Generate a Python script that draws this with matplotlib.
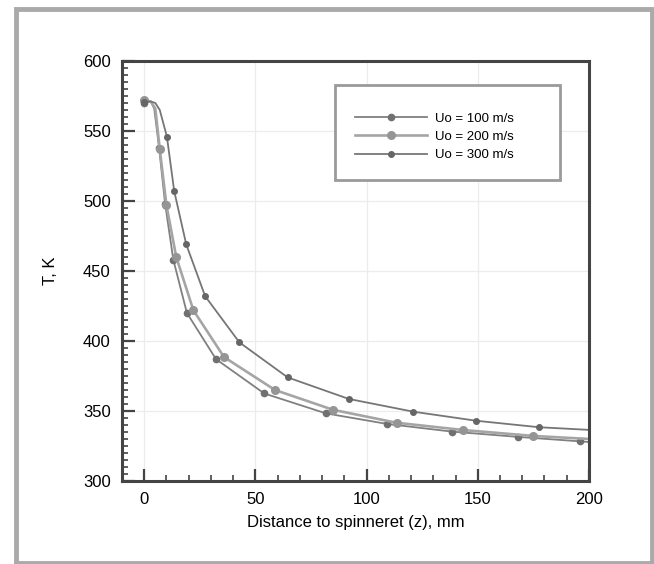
import matplotlib
matplotlib.use("Agg")
import matplotlib.pyplot as plt
from matplotlib.patches import Rectangle
from matplotlib.ticker import MultipleLocator

plt.rcParams['font.family'] = ['Liberation Sans', 'DejaVu Sans']

# values: distance (mm) and temperature (K)
z_100 = [0, 3, 4.5, 6.7, 9.4, 13.1, 19.2, 32.3, 54.0, 81.7, 109.4, 138.2, 168.0, 196.0, 200]
T_100 = [570, 571, 566, 538, 498, 458, 420, 387, 362.5, 348.3, 340.7, 335.3, 331.5, 328.3, 327.8]
mk_100 = [0, 3, 4, 5, 6, 7, 8, 9, 10, 11, 12, 13]

z_200 = [0, 3, 5, 7, 10, 14.4, 22.1, 35.9, 58.8, 85.0, 113.5, 143.4, 174.8, 200]
T_200 = [572, 571, 566, 537, 497, 460, 422, 388.5, 365, 350.8, 341.6, 336.4, 332.2, 330]
mk_200 = [0, 3, 4, 5, 6, 7, 8, 9, 10, 11, 12]

z_300 = [0, 3, 5, 7, 10.2, 13.5, 18.9, 27.4, 42.8, 64.5, 92.0, 121.0, 149.4, 177.5, 200]
T_300 = [571, 571, 570, 565, 546, 507, 469, 432, 399, 374, 358.6, 349.5, 343, 338.4, 336.5]
mk_300 = [0, 4, 5, 6, 7, 8, 9, 10, 11, 12, 13]

labels = ['Uo = 100 m/s', 'Uo = 200 m/s', 'Uo = 300 m/s']

fig = plt.figure(figsize=(6.54, 5.64), dpi=100)
ax = fig.add_axes([0.1865, 0.1472, 0.714, 0.7447])

ax.plot(z_100, T_100, color='#808080', lw=1.3, marker='o', ms=4.5,
        mfc='#707070', mec='#707070', markevery=mk_100, label=labels[0])
ax.plot(z_200, T_200, color='#a5a5a5', lw=1.9, marker='o', ms=5.5,
        mfc='#959595', mec='#959595', markevery=mk_200, label=labels[1])
ax.plot(z_300, T_300, color='#767676', lw=1.3, marker='o', ms=4,
        mfc='#666666', mec='#666666', markevery=mk_300, label=labels[2])

ax.set_xlim(-10, 200)
ax.set_ylim(300, 600)
ax.xaxis.set_major_locator(MultipleLocator(50))
ax.xaxis.set_minor_locator(MultipleLocator(10))
ax.yaxis.set_major_locator(MultipleLocator(50))
ax.yaxis.set_minor_locator(MultipleLocator(5))
ax.tick_params(which='both', direction='in', color='#444444', top=False, right=False)
ax.tick_params(which='major', length=9, width=1.6, labelsize=12, pad=8)
ax.tick_params(which='minor', length=4.5, width=1.2)
for s in ax.spines.values():
    s.set_color('#444444')
    s.set_linewidth(2.2)
ax.grid(True, which='major', color='#ececec', lw=0.9)
ax.set_axisbelow(True)

ax.set_xlabel('Distance to spinneret (z), mm', fontsize=12, labelpad=6)
ax.set_ylabel('T, K', fontsize=12, labelpad=18)

# legend box
ax.add_patch(Rectangle((0.456, 0.717), 0.482, 0.226, transform=ax.transAxes,
                       fill=True, facecolor='white', edgecolor='#9a9a9a', lw=2, zorder=5))
ax.legend(loc='center', bbox_to_anchor=(0.669, 0.819), frameon=False, fontsize=9.5,
          handlelength=5.4, handletextpad=0.6, labelspacing=0.45).set_zorder(6)

# outer frame of the figure
fig.patches.append(Rectangle((15.5 / 654, 1.5 / 564), (652 - 15.5) / 654, (555 - 1.5) / 564,
                             transform=fig.transFigure, fill=False,
                             edgecolor='#aaaaaa', lw=3.5))

fig.savefig('out.png', dpi=100)
